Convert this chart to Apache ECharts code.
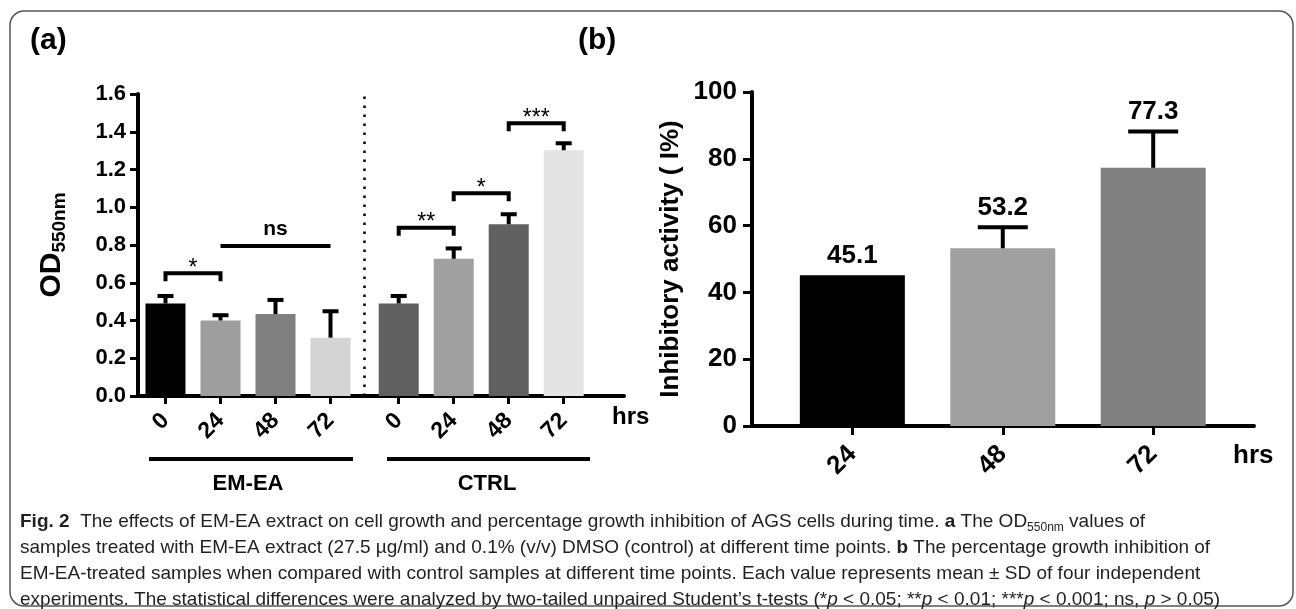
<!DOCTYPE html>
<html>
<head>
<meta charset="utf-8">
<script src="https://cdn.jsdelivr.net/npm/echarts@6/dist/echarts.min.js"></script>
<style>
  html, body { margin: 0; padding: 0; background: #fff; }
  #chart { width: 1296px; height: 609px; }
</style>
</head>
<body>
<div id="chart"></div>
<script>
// ---- panel (a): OD550nm ----
const hours = ['0', '24', '48', '72'];
const groups = ['EM-EA', 'CTRL'];
const odEmea = [0.49, 0.40, 0.434, 0.309];
const odEmeaSd = [0.04, 0.028, 0.075, 0.14];
const odCtrl = [0.49, 0.727, 0.91, 1.302];
const odCtrlSd = [0.04, 0.055, 0.053, 0.037];
const odTickLabels = ['0.0', '0.2', '0.4', '0.6', '0.8', '1.0', '1.2', '1.4', '1.6'];

// significance brackets: group, from hour idx, to hour idx, height, label
const sigGroup = [0, 0, 1, 1, 1];
const sigFrom = [0, 1, 0, 1, 2];
const sigTo = [1, 3, 1, 2, 3];
const sigLevel = [0.65, 0.795, 0.892, 1.074, 1.445];
const sigText = ['*', 'ns', '**', '*', '***'];

// ---- panel (b): inhibitory activity ----
const inhibHours = ['24', '48', '72'];
const inhib = [45.1, 53.2, 77.3];
const inhibSd = [0, 6.3, 10.9];
const inhibTickLabels = ['0', '20', '40', '60', '80', '100'];

const colorsA = [['#000000', '#9e9e9e', '#808080', '#d4d4d4'], ['#606060', '#a0a0a0', '#606060', '#e4e4e4']];
const colorsB = ['#000000', '#a0a0a0', '#808080'];

const FONT = "'Liberation Sans', Arial, sans-serif";
const CAPFONT = "'Liberation Sans Narrow', 'Liberation Sans', sans-serif";
const CTRL_OFFSET = 4.24;   // x position shift of the CTRL group
const xOf = (g, i) => i + 1 + g * CTRL_OFFSET;

const xPosA = [];
const xLabA = [];
groups.forEach((g, gi) => hours.forEach((h, i) => { xPosA.push(xOf(gi, i)); xLabA.push(h); }));
const xPosB = inhibHours.map((h, i) => i + 1);

const barDataA = [];
const errDataA = [];
[odEmea, odCtrl].forEach((vals, gi) => {
  const sds = gi === 0 ? odEmeaSd : odCtrlSd;
  vals.forEach((v, i) => {
    barDataA.push({ value: [xOf(gi, i), v], itemStyle: { color: colorsA[gi][i] } });
    errDataA.push([xOf(gi, i), v, sds[i]]);
  });
});
const sigData = sigText.map((t, k) => [xOf(sigGroup[k], sigFrom[k]), xOf(sigGroup[k], sigTo[k]), sigLevel[k]]);

const barDataB = inhib.map((v, i) => ({ value: [i + 1, v], itemStyle: { color: colorsB[i] } }));
const errDataB = inhib.map((v, i) => [i + 1, v, inhibSd[i]]);

function labelFor(pos, labs, v) {
  for (let i = 0; i < pos.length; i++) if (Math.abs(pos[i] - v) < 1e-6) return labs[i];
  return '';
}

function errorBar(capW, withLabel) {
  return function (params, api) {
    const x = api.value(0), y = api.value(1), sd = api.value(2);
    const base = api.coord([x, y]);
    const top = api.coord([x, y + sd]);
    const children = [];
    if (sd > 0) {
      children.push({ type: 'line', shape: { x1: base[0], y1: base[1], x2: top[0], y2: top[1] }, style: { stroke: '#000', lineWidth: 4 } });
      children.push({ type: 'line', shape: { x1: top[0] - capW / 2, y1: top[1], x2: top[0] + capW / 2, y2: top[1] }, style: { stroke: '#000', lineWidth: 4 } });
    }
    if (withLabel) {
      children.push({ type: 'text', x: top[0], y: top[1] - 19.5, style: { text: y.toFixed(1), align: 'center', verticalAlign: 'middle', fontSize: 26, fontWeight: 'bold', fontFamily: FONT, fill: '#000' } });
    }
    return { type: 'group', children: children };
  };
}

function sigRender(params, api) {
  const a = api.coord([api.value(0), api.value(2)]);
  const b = api.coord([api.value(1), api.value(2)]);
  const t = sigText[params.dataIndex];
  const stars = t.indexOf('*') >= 0;
  const pts = stars ? [[a[0], a[1] + 8], a, b, [b[0], b[1] + 8]] : [a, b];
  return {
    type: 'group',
    children: [
      { type: 'polyline', shape: { points: pts }, style: { stroke: '#000', lineWidth: 4, fill: null } },
      { type: 'text', x: (a[0] + b[0]) / 2, y: a[1] - (stars ? 5 : 17), style: { text: t, align: 'center', verticalAlign: 'middle', fontSize: stars ? 23 : 21, fontWeight: stars ? 'normal' : 'bold', fontFamily: FONT, fill: '#000' } }
    ]
  };
}

const axisText = (size) => ({ fontSize: size, fontWeight: 'bold', fontFamily: FONT, color: '#000' });
const blackLine = { color: '#000', width: 4 };

const chart = echarts.init(document.getElementById('chart'));
const option = {
  animation: false,
  backgroundColor: '#fff',
  grid: [
    { left: 138, right: 672, top: 94, bottom: 213 },
    { left: 752, right: 42, top: 92, bottom: 183 }
  ],
  xAxis: [
    {
      gridIndex: 0, type: 'value', min: 0.5, max: 9.336,
      splitLine: { show: false },
      axisLine: { show: true, onZero: false, lineStyle: blackLine },
      axisTick: { show: true, customValues: xPosA, length: 8, lineStyle: { color: '#000', width: 3 } },
      axisLabel: Object.assign({ customValues: xPosA, rotate: 45, margin: 21, formatter: v => labelFor(xPosA, xLabA, v) }, axisText(23))
    },
    {
      gridIndex: 1, type: 'value', min: 0.333, max: 3.67,
      splitLine: { show: false },
      axisLine: { show: true, onZero: false, lineStyle: blackLine },
      axisTick: { show: true, customValues: xPosB, length: 9, lineStyle: { color: '#000', width: 3 } },
      axisLabel: Object.assign({ customValues: xPosB, rotate: 45, margin: 24, formatter: v => labelFor(xPosB, inhibHours, v) }, axisText(26))
    }
  ],
  yAxis: [
    {
      gridIndex: 0, type: 'value', min: 0, max: 1.6, interval: 0.2,
      splitLine: { show: false },
      axisLine: { show: true, lineStyle: blackLine },
      axisTick: { show: true, length: 8, lineStyle: { color: '#000', width: 3 } },
      axisLabel: Object.assign({ margin: 12, formatter: (v, i) => odTickLabels[i] }, axisText(22))
    },
    {
      gridIndex: 1, type: 'value', min: 0, max: 100, interval: 20,
      splitLine: { show: false },
      axisLine: { show: true, lineStyle: blackLine },
      axisTick: { show: true, length: 9, lineStyle: { color: '#000', width: 3 } },
      axisLabel: Object.assign({ margin: 15, formatter: (v, i) => inhibTickLabels[i] }, axisText(26))
    }
  ],
  series: [
    {
      type: 'bar', xAxisIndex: 0, yAxisIndex: 0, barWidth: 40, data: barDataA, z: 2,
      markLine: {
        symbol: 'none', silent: true, label: { show: false },
        lineStyle: { color: '#000', width: 2.5, type: [2.5, 6.5] },
        data: [{ xAxis: (xOf(0, 3) + xOf(1, 0)) / 2 }]
      }
    },
    { type: 'custom', xAxisIndex: 0, yAxisIndex: 0, renderItem: errorBar(16, false), data: errDataA, z: 3 },
    { type: 'custom', xAxisIndex: 0, yAxisIndex: 0, renderItem: sigRender, data: sigData, z: 3 },
    { type: 'bar', xAxisIndex: 1, yAxisIndex: 1, barWidth: 105, data: barDataB, z: 2 },
    { type: 'custom', xAxisIndex: 1, yAxisIndex: 1, renderItem: errorBar(50, true), data: errDataB, z: 3 }
  ],
  graphic: [
    { type: 'rect', silent: true, z: -10, shape: { x: 10, y: 11, width: 1283, height: 595, r: 14 }, style: { fill: 'none', stroke: '#555', lineWidth: 1.5 } },
    { type: 'text', left: 30, top: 26, style: { text: '(a)', fontSize: 30, fontWeight: 'bold', fontFamily: FONT, fill: '#000' } },
    { type: 'text', left: 578, top: 26, style: { text: '(b)', fontSize: 30, fontWeight: 'bold', fontFamily: FONT, fill: '#000' } },
    {
      type: 'text', x: 52, y: 245, rotation: Math.PI / 2,
      style: {
        text: '{od|OD}{sub|550nm}', align: 'center', verticalAlign: 'middle',
        rich: {
          od: { fontSize: 30, fontWeight: 'bold', fontFamily: FONT, lineHeight: 34, fill: '#000' },
          sub: { fontSize: 19, fontWeight: 'bold', fontFamily: FONT, lineHeight: 18, verticalAlign: 'bottom', fill: '#000' }
        }
      }
    },
    {
      type: 'text', x: 671, y: 259, rotation: Math.PI / 2,
      style: { text: 'Inhibitory activity ( I%)', align: 'center', verticalAlign: 'middle', fontSize: 26, fontWeight: 'bold', fontFamily: FONT, fill: '#000' }
    },
    { type: 'text', x: 612, y: 417, style: { text: 'hrs', verticalAlign: 'middle', fontSize: 24, fontWeight: 'bold', fontFamily: FONT, fill: '#000' } },
    { type: 'text', x: 1233, y: 456, style: { text: 'hrs', verticalAlign: 'middle', fontSize: 26, fontWeight: 'bold', fontFamily: FONT, fill: '#000' } },
    { type: 'line', shape: { x1: 149, y1: 459, x2: 353, y2: 459 }, style: { stroke: '#000', lineWidth: 4 } },
    { type: 'line', shape: { x1: 387, y1: 459, x2: 590, y2: 459 }, style: { stroke: '#000', lineWidth: 4 } },
    { type: 'text', x: 248, y: 484, style: { text: groups[0], align: 'center', verticalAlign: 'middle', fontSize: 22, fontWeight: 'bold', fontFamily: FONT, fill: '#000' } },
    { type: 'text', x: 487, y: 484, style: { text: groups[1], align: 'center', verticalAlign: 'middle', fontSize: 22, fontWeight: 'bold', fontFamily: FONT, fill: '#000' } }
  ]
};

// caption
const capRich = {
  n: { fontSize: 19, fontFamily: CAPFONT, lineHeight: 24, fill: '#231f20' },
  b: { fontSize: 19, fontFamily: CAPFONT, fontWeight: 'bold', lineHeight: 24, fill: '#231f20' },
  i: { fontSize: 19, fontFamily: CAPFONT, fontStyle: 'italic', lineHeight: 24, fill: '#231f20' },
  s: { fontSize: 12, fontFamily: CAPFONT, lineHeight: 12, verticalAlign: 'bottom', fill: '#231f20' }
};
const capLines = [
  '{b|Fig. 2}{n|  The effects of EM-EA extract on cell growth and percentage growth inhibition of AGS cells during time. }{b|a}{n| The OD}{s|550nm}{n| values of}',
  '{n|samples treated with EM-EA extract (27.5 µg/ml) and 0.1% (v/v) DMSO (control) at different time points. }{b|b}{n| The percentage growth inhibition of}',
  '{n|EM-EA-treated samples when compared with control samples at different time points. Each value represents mean ± SD of four independent}',
  '{n|experiments. The statistical differences were analyzed by two-tailed unpaired Student\u2019s t-tests (*}{i|p}{n| < 0.05; **}{i|p}{n| < 0.01; ***}{i|p}{n| < 0.001; ns, }{i|p}{n| > 0.05)}'
];
capLines.forEach((t, k) => {
  option.graphic.push({ type: 'text', x: 20, y: 522 + k * 26, style: { text: t, verticalAlign: 'middle', rich: capRich } });
});

chart.setOption(option);
</script>
</body>
</html>
